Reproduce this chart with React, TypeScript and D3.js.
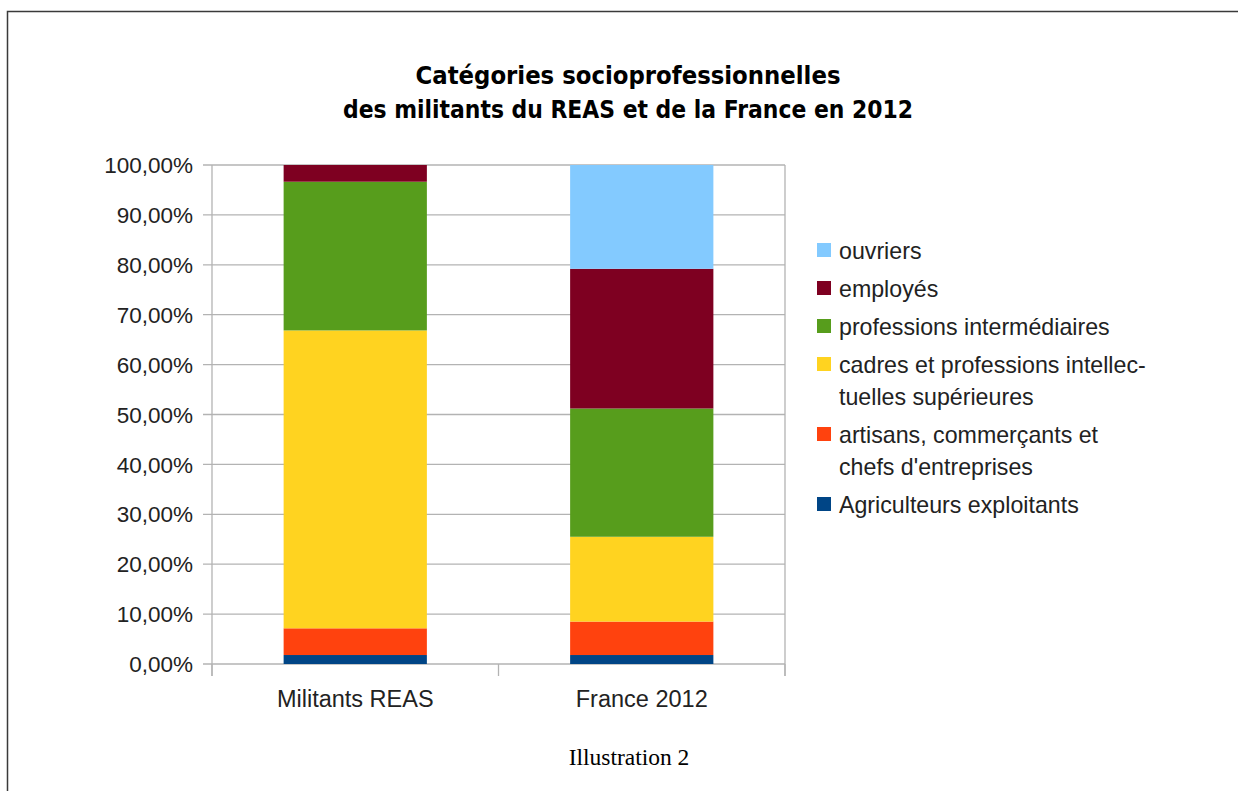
import React from 'react';
import * as d3 from 'd3';

// categories on the x axis
const groups = ['Militants REAS', 'France 2012'];

// series, from bottom of the stack to top
const seriesNames = [
  'Agriculteurs exploitants',
  'artisans, commerçants et chefs d\'entreprises',
  'cadres et professions intellectuelles supérieures',
  'professions intermédiaires',
  'employés',
  'ouvriers',
];
const seriesColors = ['#004586', '#ff420e', '#ffd320', '#579d1c', '#7e0021', '#83caff'];

// shares (%) per series, one value per group
const agriculteurs = [1.8, 1.8];
const artisans = [5.35, 6.7];
const cadres = [59.7, 17.0];
const profInter = [29.8, 25.7];
const employes = [3.35, 28.0];
const ouvriers = [0, 20.8];

const yTicks = [0, 10, 20, 30, 40, 50, 60, 70, 80, 90, 100];

// legend rows, top to bottom (lines already wrapped like the original)
const legendItems = [
  { color: '#83caff', lines: ['ouvriers'] },
  { color: '#7e0021', lines: ['employés'] },
  { color: '#579d1c', lines: ['professions intermédiaires'] },
  { color: '#ffd320', lines: ['cadres et professions intellec-', 'tuelles supérieures'] },
  { color: '#ff420e', lines: ['artisans, commerçants et', 'chefs d\'entreprises'] },
  { color: '#004586', lines: ['Agriculteurs exploitants'] },
];

const W = 1238;
const H = 791;
const plot = { left: 212, right: 785, top: 165, bottom: 664 };
const sans = '"Liberation Sans", Arial, sans-serif';
const grid = '#b3b3b3';

export default function App() {
  const table = groups.map((g, i) => ({
    group: g,
    s0: agriculteurs[i],
    s1: artisans[i],
    s2: cadres[i],
    s3: profInter[i],
    s4: employes[i],
    s5: ouvriers[i],
  }));
  const keys = ['s0', 's1', 's2', 's3', 's4', 's5'];
  const stacked = d3.stack<any>().keys(keys)(table);

  const x = d3.scaleBand<string>()
    .domain(groups)
    .range([plot.left, plot.right])
    .paddingInner(0.5)
    .paddingOuter(0.25);
  const y = d3.scaleLinear().domain([0, 100]).range([plot.bottom, plot.top]);
  const fmt = (v: number) => v.toFixed(2).replace('.', ',') + '%';

  const step = x.step();
  const bandEdges = [plot.left, plot.left + step, plot.right];

  // legend layout
  let cursor = 259;
  const legendRows = legendItems.map((it) => {
    const row = { ...it, y: cursor };
    cursor += 38 + (it.lines.length - 1) * 32;
    return row;
  });

  return (
    <svg width={W} height={H} style={{ position: 'absolute', left: 0, top: 0, background: '#fff' }}>
      {/* frame */}
      <path d={`M7.5,${H + 5} V11.5 H${W + 5}`} fill="none" stroke="#3a3a3a" strokeWidth={1.5} />

      {/* title */}
      <g fontFamily='"DejaVu Sans", sans-serif' fontWeight="bold" fontSize={24.5} fill="#000" textAnchor="middle">
        <text x={628} y={84} textLength={425} lengthAdjust="spacingAndGlyphs">Catégories socioprofessionnelles</text>
        <text x={628} y={118} textLength={570} lengthAdjust="spacingAndGlyphs">des militants du REAS et de la France en 2012</text>
      </g>

      {/* grid + y ticks */}
      {yTicks.map((t) => (
        <g key={t}>
          <line x1={plot.left - 9} x2={plot.right} y1={y(t)} y2={y(t)} stroke={grid} strokeWidth={1.3} />
          <text x={193} y={y(t)} dy="0.36em" textAnchor="end" fontFamily={sans} fontSize={22.5} fill="#222">
            {fmt(t)}
          </text>
        </g>
      ))}
      {/* axis lines */}
      <line x1={plot.left} x2={plot.left} y1={plot.top} y2={plot.bottom + 12} stroke={grid} strokeWidth={1.3} />
      <line x1={plot.right} x2={plot.right} y1={plot.top} y2={plot.bottom + 12} stroke={grid} strokeWidth={1.3} />
      {bandEdges.map((bx, i) => (
        <line key={i} x1={bx} x2={bx} y1={plot.bottom} y2={plot.bottom + 12} stroke={grid} strokeWidth={1.3} />
      ))}

      {/* stacked bars */}
      {stacked.map((layer, li) => (
        <g key={layer.key} fill={seriesColors[li]}>
          {layer.map((d, i) => (
            <rect
              key={i}
              x={x(groups[i])}
              width={x.bandwidth()}
              y={y(d[1])}
              height={Math.max(0, y(d[0]) - y(d[1]))}
            />
          ))}
        </g>
      ))}

      {/* category labels */}
      {groups.map((g) => (
        <text key={g} x={(x(g) ?? 0) + x.bandwidth() / 2} y={707} textAnchor="middle"
          fontFamily={sans} fontSize={23.5} fill="#222">
          {g}
        </text>
      ))}

      {/* legend */}
      {legendRows.map((r) => (
        <g key={r.lines[0]}>
          <rect x={817} y={r.y - 16} width={14} height={14} fill={r.color} />
          {r.lines.map((ln, k) => (
            <text key={k} x={839} y={r.y + k * 32} fontFamily={sans} fontSize={23.2} fill="#222">{ln}</text>
          ))}
        </g>
      ))}

      {/* caption */}
      <text x={629} y={765} textAnchor="middle" fontFamily='"Liberation Serif", "Times New Roman", serif'
        fontSize={23.5} fill="#000">Illustration 2</text>
    </svg>
  );
}
